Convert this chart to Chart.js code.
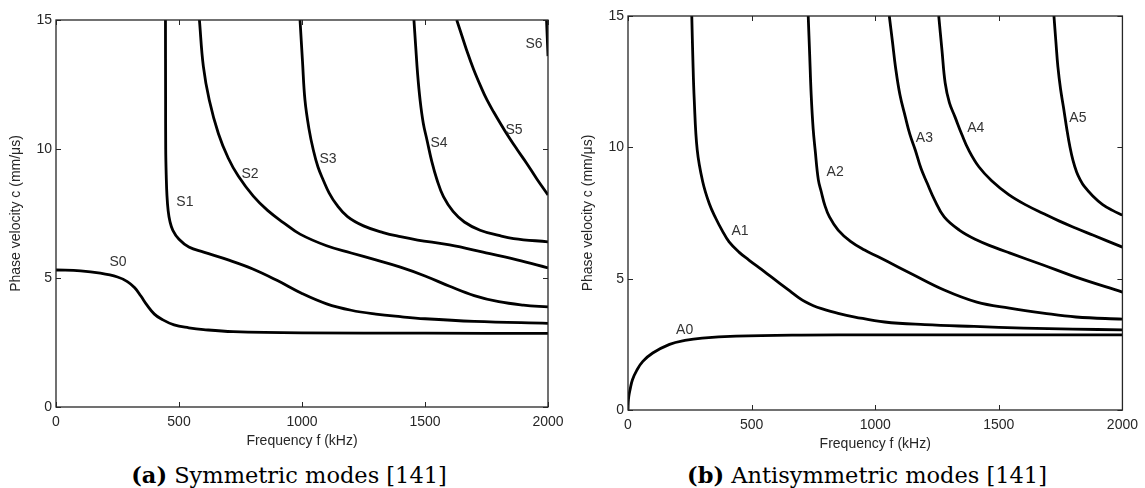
<!DOCTYPE html>
<html>
<head>
<meta charset="utf-8">
<script src="https://cdn.jsdelivr.net/npm/chart.js@4.4.1/dist/chart.umd.min.js"></script>
<style>
  body { margin: 0; background: #fff; width: 1145px; height: 488px; position: relative; overflow: hidden; }
  canvas { position: absolute; top: 0; }
  #symChart { left: 0; }
  #antiChart { left: 572px; }
  .caption { position: absolute; top: 464px; width: 400px; text-align: center; white-space: nowrap;
             font-family: 'DejaVu Serif', serif; font-size: 22.5px; line-height: 1; color: #000; }
</style>
</head>
<body>
<canvas id="symChart" width="572" height="460"></canvas>
<canvas id="antiChart" width="573" height="460"></canvas>
<div class="caption" style="left:89px"><b>(a)</b> Symmetric modes [141]</div>
<div class="caption" style="left:667px"><b>(b)</b> Antisymmetric modes [141]</div>
<script>
// Curvas de dispersión: frecuencia (kHz) -> velocidad de fase (mm/µs)

// modos simétricos
const s0F = [0, 100, 180, 250, 290, 320, 345, 370, 400, 430, 480, 540, 600, 720, 1000, 1500, 2000];
const s0C = [5.31, 5.28, 5.19, 5.04, 4.86, 4.62, 4.3, 3.95, 3.6, 3.4, 3.18, 3.07, 3.0, 2.92, 2.87, 2.86, 2.85];
const s1F = [445, 445.5, 446, 448, 451, 456, 463, 475, 500, 540, 600, 700, 800, 900, 1000, 1100, 1200, 1300, 1400, 1500, 1700, 2000];
const s1C = [15, 12, 10, 9, 8.2, 7.6, 7.2, 6.85, 6.5, 6.2, 6.0, 5.7, 5.35, 4.9, 4.4, 4.0, 3.75, 3.6, 3.5, 3.42, 3.32, 3.24];
const s2F = [583, 599, 623, 660, 700, 741, 802, 860, 924, 992, 1100, 1200, 1300, 1400, 1500, 1600, 1700, 1800, 1900, 2000];
const s2C = [15, 13.2, 11.9, 10.6, 9.65, 8.95, 8.17, 7.62, 7.15, 6.7, 6.25, 5.97, 5.7, 5.42, 5.08, 4.68, 4.32, 4.08, 3.95, 3.88];
const s3F = [992, 1002, 1012, 1028, 1046, 1065, 1087, 1110, 1140, 1185, 1250, 1330, 1400, 1470, 1600, 1736, 1874, 2000];
const s3C = [15, 13.4, 11.9, 10.8, 9.96, 9.3, 8.78, 8.3, 7.85, 7.38, 7.02, 6.76, 6.6, 6.47, 6.28, 6.0, 5.7, 5.39];
const s4F = [1455, 1462, 1470, 1480, 1493, 1508, 1528, 1549, 1575, 1614, 1660, 1724, 1800, 1860, 2000];
const s4C = [15, 14.0, 12.9, 11.9, 11.0, 10.35, 9.5, 8.8, 8.15, 7.58, 7.17, 6.85, 6.65, 6.53, 6.4];
const s5F = [1629, 1649, 1669, 1697, 1730, 1752, 1778, 1825, 1873, 1913, 1954, 2000];
const s5C = [15, 14.42, 13.84, 13.1, 12.35, 11.9, 11.45, 10.7, 10.0, 9.45, 8.85, 8.22];
const s6F = [1994, 2000];
const s6C = [15, 13.6];

// modos antisimétricos
const a0F = [0, 1, 3, 8, 18, 36, 60, 100, 168, 230, 300, 437, 700, 1000, 2000];
const a0C = [0, 0.3, 0.5, 0.76, 1.15, 1.52, 1.85, 2.17, 2.5, 2.65, 2.74, 2.81, 2.85, 2.86, 2.86];
const a1F = [258, 262, 268, 280, 302, 329, 355, 380, 409, 450, 489, 540, 581, 649, 690, 717, 750, 783, 850, 918, 1038, 1200, 1400, 1600, 1800, 2000];
const a1C = [15, 13.5, 11.8, 9.9, 8.7, 7.85, 7.3, 6.85, 6.4, 6.0, 5.71, 5.35, 5.06, 4.57, 4.28, 4.12, 3.97, 3.86, 3.68, 3.54, 3.35, 3.25, 3.18, 3.12, 3.08, 3.05];
const a2F = [729, 735, 741, 749, 757, 770, 782, 796, 815, 850, 900, 957, 1010, 1050, 1142, 1279, 1411, 1543, 1679, 1812, 2000];
const a2C = [15, 13.5, 12.0, 10.7, 9.9, 8.76, 8.3, 7.8, 7.35, 6.85, 6.42, 6.09, 5.84, 5.65, 5.21, 4.57, 4.11, 3.88, 3.69, 3.54, 3.46];
const a3F = [1057, 1070, 1082, 1100, 1122, 1140, 1162, 1185, 1210, 1240, 1279, 1340, 1411, 1480, 1543, 1679, 1812, 2000];
const a3C = [15, 14.0, 13.06, 12.0, 11.15, 10.5, 9.9, 9.2, 8.64, 8.0, 7.35, 6.85, 6.47, 6.2, 5.98, 5.52, 5.06, 4.49];
const a4F = [1257, 1270, 1283, 1300, 1323, 1350, 1378, 1420, 1471, 1540, 1611, 1680, 1743, 1810, 1880, 2000];
const a4C = [15, 13.7, 12.45, 11.7, 11.15, 10.5, 9.9, 9.25, 8.73, 8.2, 7.8, 7.48, 7.2, 6.93, 6.66, 6.2];
const a5F = [1723, 1731, 1739, 1750, 1762, 1775, 1788, 1800, 1815, 1830, 1845, 1880, 1920, 1960, 2000];
const a5C = [15, 14.0, 13.06, 12.2, 11.5, 10.7, 10.0, 9.5, 9.05, 8.75, 8.52, 8.15, 7.82, 7.6, 7.42];

// etiquetas de los modos (posición en unidades de datos)
const sLabelText = ['S0', 'S1', 'S2', 'S3', 'S4', 'S5', 'S6'];
const sLabelF = [252, 524, 789, 1106, 1557, 1862, 1943];
const sLabelC = [5.62, 7.95, 9.03, 9.61, 10.23, 10.74, 14.07];
const aLabelText = ['A0', 'A1', 'A2', 'A3', 'A4', 'A5'];
const aLabelF = [229, 453, 838, 1199, 1407, 1820];
const aLabelC = [3.05, 6.81, 9.06, 10.36, 10.74, 11.12];

const xTicks = [0, 500, 1000, 1500, 2000];
const yTicks = [0, 5, 10, 15];

Chart.defaults.font.family = "'Liberation Sans', Arial, Helvetica, sans-serif";
Chart.defaults.font.size = 14;
Chart.defaults.color = '#262626';

function curve(fs, cs) {
	return {
		data: fs.map((f, i) => ({ x: f, y: cs[i] })),
		showLine: true,
		borderColor: '#000',
		borderWidth: 2.8,
		pointRadius: 0,
		tension: 0.4,
		fill: false
	};
}

// marco tipo MATLAB con marcas hacia adentro
const frameTicks = {
	id: 'frameTicks',
	afterDatasetsDraw(chart) {
		const { ctx, chartArea: a, scales: { x, y } } = chart;
		ctx.save();
		ctx.strokeStyle = '#262626';
		ctx.lineWidth = 1;
		ctx.beginPath();
		x.ticks.forEach(t => {
			const px = Math.round(x.getPixelForValue(t.value)) + 0.5;
			ctx.moveTo(px, a.bottom); ctx.lineTo(px, a.bottom - 5);
			ctx.moveTo(px, a.top); ctx.lineTo(px, a.top + 5);
		});
		y.ticks.forEach(t => {
			const py = Math.round(y.getPixelForValue(t.value)) + 0.5;
			ctx.moveTo(a.left, py); ctx.lineTo(a.left + 5, py);
			ctx.moveTo(a.right, py); ctx.lineTo(a.right - 5, py);
		});
		ctx.stroke();
		ctx.lineWidth = 1.3;
		ctx.strokeRect(a.left, a.top, a.right - a.left, a.bottom - a.top);
		ctx.restore();
	}
};

function labelPlugin(names, fs, cs) {
	return {
		id: 'modeLabels',
		afterDatasetsDraw(chart) {
			const { ctx, scales: { x, y } } = chart;
			ctx.save();
			ctx.font = "14px 'Liberation Sans', Arial, sans-serif";
			ctx.fillStyle = '#333';
			ctx.textAlign = 'center';
			ctx.textBaseline = 'middle';
			names.forEach((n, i) => ctx.fillText(n, x.getPixelForValue(fs[i]), y.getPixelForValue(cs[i])));
			ctx.restore();
		}
	};
}

function makeOptions(padTop, padRight, xHeight, xTitlePad) {
	return {
		responsive: false,
		animation: false,
		layout: { padding: { top: padTop, right: padRight, left: 0, bottom: 0 } },
		plugins: { legend: { display: false }, tooltip: { enabled: false } },
		scales: {
			x: {
				type: 'linear', min: 0, max: 2000,
				afterFit: s => { s.height = xHeight; },
				afterBuildTicks: s => { s.ticks = xTicks.map(v => ({ value: v })); },
				grid: { display: false, drawTicks: false },
				border: { display: false },
				ticks: { padding: 7, maxRotation: 0, callback: v => String(v) },
				title: { display: true, text: 'Frequency f (kHz)', padding: { top: 0, bottom: xTitlePad } }
			},
			y: {
				type: 'linear', min: 0, max: 15,
				afterFit: s => { s.width = 56; },
				afterBuildTicks: s => { s.ticks = yTicks.map(v => ({ value: v })); },
				grid: { display: false, drawTicks: false },
				border: { display: false },
				ticks: { padding: 4, callback: v => String(v) },
				title: { display: true, text: 'Phase velocity c (mm/μs)', padding: { top: 8, bottom: 0 } }
			}
		}
	};
}

new Chart(document.getElementById('symChart'), {
	type: 'scatter',
	data: { datasets: [curve(s0F, s0C), curve(s1F, s1C), curve(s2F, s2C), curve(s3F, s3C), curve(s4F, s4C), curve(s5F, s5C), curve(s6F, s6C)] },
	options: makeOptions(20, 24, 53, 10.6),
	plugins: [frameTicks, labelPlugin(sLabelText, sLabelF, sLabelC)]
});

new Chart(document.getElementById('antiChart'), {
	type: 'scatter',
	data: { datasets: [curve(a0F, a0C), curve(a1F, a1C), curve(a2F, a2C), curve(a3F, a3C), curve(a4F, a4C), curve(a5F, a5C)] },
	options: makeOptions(16, 18, 50, 7.6),
	plugins: [frameTicks, labelPlugin(aLabelText, aLabelF, aLabelC)]
});
</script>
</body>
</html>
